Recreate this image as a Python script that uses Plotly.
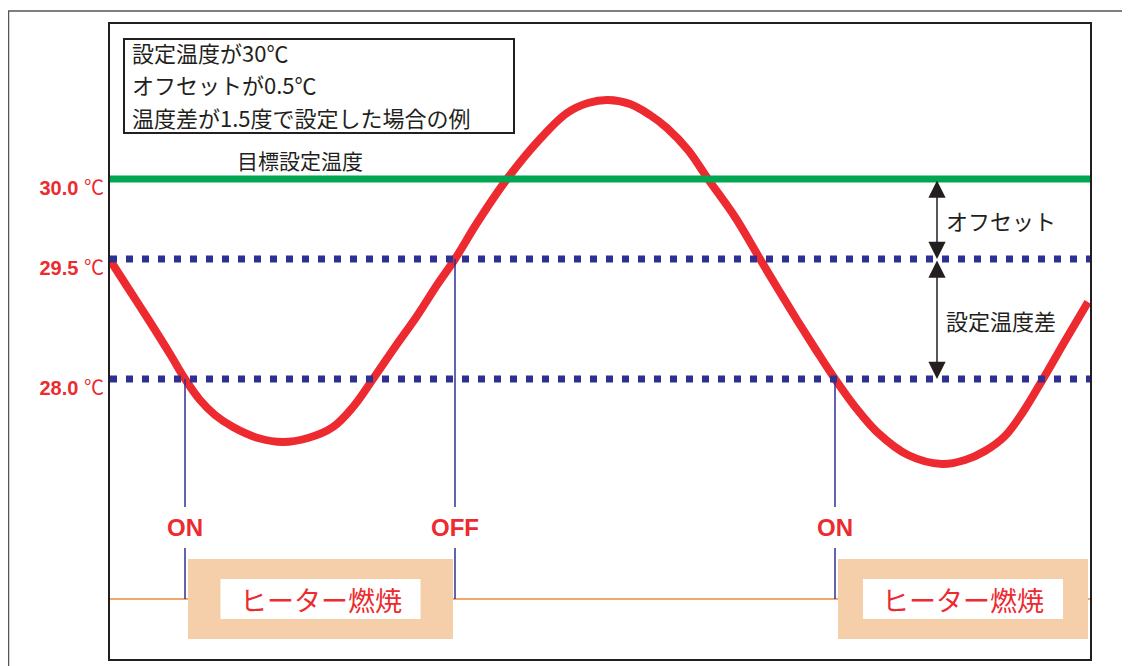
import plotly.graph_objects as go

# schematic diagram: x = time (arbitrary units), y = vertical position in the diagram
curve_t = [0.0, 2.0, 4.0, 6.0, 7.5, 9.0, 10.5, 12.3, 14.8, 17.3, 19.8, 22.3, 24.3, 26.3, 28.5,
           30.7, 32.7, 34.5, 36.7, 39.7, 43.0, 45.7, 47.8, 49.8, 52.0, 54.0, 55.7, 57.8,
           59.8, 62.5, 65.0, 66.8, 68.7, 70.6, 72.5, 74.6, 76.7, 79.8, 83.2, 85.5, 87.5,
           89.5, 91.3, 93.3, 95.5, 97.8]
curve_y = [39.9, 36.8, 33.7, 30.5, 28.0, 25.9, 24.4, 23.2, 22.1, 21.7, 22.1, 23.2, 25.2, 28.0, 31.2,
           34.3, 37.4, 40.0, 43.6, 48.0, 52.0, 54.6, 55.6, 55.9, 55.5, 54.4, 53.1, 50.9,
           48.0, 44.2, 40.0, 37.0, 33.9, 30.9, 28.0, 25.1, 22.7, 20.4, 19.5, 19.9, 20.8,
           22.3, 24.7, 28.0, 31.8, 35.7]

level_temps = ["30.0", "29.5", "28.0"]
level_y = [48.0, 40.0, 28.0]

event_t = [7.5, 34.5, 72.5]
event_labels = ["ON", "OFF", "ON"]
event_level = [28.0, 40.0, 28.0]

heater_start = [7.5, 72.5]
heater_end = [34.5, 98.0]
heater_label = "ヒーター燃焼"

info_lines = ["設定温度が30℃", "オフセットが0.5℃", "温度差が1.5度で設定した場合の例"]

RED = "#ec2a2f"
GREEN = "#00a651"
NAVY = "#2e3192"
INK = "#231f20"
PEACH = "#f5cfa9"
ORANGE = "#f08a3c"
JP = "Noto Sans CJK JP"
LAT = "Liberation Sans, Arial, Noto Sans CJK JP"

# the page body adds an 8px margin, so the figure is sized to fit inside the window
W, H = 1122, 658
L, R, T, B = 102, 40, 16, 7
X_MAX, Y_MAX = 98.0, 63.5


def px_x(p):
    return (p - L) / (W - L - R)


def px_y(p):
    return (H - B - p) / (H - T - B)


fig = go.Figure()

fig.add_trace(go.Scatter(
    x=curve_t, y=curve_y, mode="lines",
    line=dict(color=RED, width=8, shape="spline", smoothing=1.0),
    hoverinfo="skip", showlegend=False
))

# outer frame of the page
fig.add_shape(type="line", xref="paper", yref="paper",
              x0=px_x(0), x1=px_x(W), y0=px_y(3), y1=px_y(3),
              line=dict(color="#555", width=1.5))
fig.add_shape(type="line", xref="paper", yref="paper",
              x0=px_x(0.5), x1=px_x(0.5), y0=px_y(3), y1=px_y(H),
              line=dict(color="#555", width=1.5))

# heater state baseline
fig.add_shape(type="line", x0=0, x1=X_MAX, y0=6.0, y1=6.0,
              line=dict(color=ORANGE, width=1.5))

# level lines
fig.add_shape(type="line", x0=0, x1=X_MAX, y0=level_y[0], y1=level_y[0],
              line=dict(color=GREEN, width=7))
for y in level_y[1:]:
    fig.add_shape(type="line", x0=0, x1=X_MAX, y0=y, y1=y,
                  line=dict(color=NAVY, width=7, dash="7px,9px"))

# switching events
for t, lab, lev in zip(event_t, event_labels, event_level):
    fig.add_shape(type="line", x0=t, x1=t, y0=lev, y1=15.2,
                  line=dict(color=NAVY, width=1.5))
    fig.add_shape(type="line", x0=t, x1=t, y0=11.1, y1=6.0,
                  line=dict(color=NAVY, width=1.5))
    fig.add_annotation(x=t, y=13.2, text=f"<b>{lab}</b>", showarrow=False,
                       font=dict(family=LAT, size=24, color=RED))

# heater on periods
for s, e in zip(heater_start, heater_end):
    x0, x1 = s + 0.3, e - 0.2
    c = (x0 + x1) / 2
    fig.add_shape(type="rect", x0=x0, x1=x1, y0=2.0, y1=10.0,
                  fillcolor=PEACH, line=dict(width=0))
    fig.add_shape(type="rect", x0=c - 10, x1=c + 10, y0=4.0, y1=8.0,
                  fillcolor="white", line=dict(width=0))
    fig.add_annotation(x=c, y=6.0, text=heater_label, showarrow=False,
                       font=dict(family=JP, size=27, color=RED))

# info box
fig.add_shape(type="rect", x0=1.4, x1=40.4, y0=52.6, y1=62.0,
              line=dict(color=INK, width=2), fillcolor="rgba(0,0,0,0)")
for i, line in enumerate(info_lines):
    fig.add_annotation(x=2.0, y=60.75 - 3.25 * i, text=line, showarrow=False,
                       xanchor="left", yanchor="middle", align="left",
                       font=dict(family=JP, size=22, color=INK))

fig.add_annotation(x=19.0, y=49.9, text="目標設定温度", showarrow=False,
                   font=dict(family=JP, size=21, color=INK))

# offset / differential arrows
ax_x = 82.7
for top, bot, lab in [(level_y[0], level_y[1], "オフセット"), (level_y[1], level_y[2], "設定温度差")]:
    fig.add_annotation(x=ax_x, y=bot, ax=ax_x, ay=top, axref="x", ayref="y",
                       text="", showarrow=True, arrowside="end+start",
                       arrowhead=2, startarrowhead=2, arrowsize=2.3, startarrowsize=2.3,
                       arrowwidth=1.5, arrowcolor=INK, standoff=0, startstandoff=0)
    fig.add_annotation(x=ax_x + 0.7, y=(top + bot) / 2 - 0.1, text=lab, showarrow=False,
                       xanchor="left", font=dict(family=JP, size=22, color=INK))

fig.update_layout(
    width=W, height=H,
    margin=dict(l=L, r=R, t=T, b=B),
    paper_bgcolor="white", plot_bgcolor="white",
    showlegend=False, hovermode=False,
    xaxis=dict(range=[0, X_MAX], showgrid=False, zeroline=False, showticklabels=False,
               ticks="", showline=True, mirror=True, linecolor=INK, linewidth=2),
    yaxis=dict(range=[0, Y_MAX], showgrid=False, zeroline=False, automargin=False,
               tickvals=level_y, ticktext=[f"<b>{v}</b> ℃" for v in level_temps],
               ticks="", ticklabelstandoff=0, ticklabelshift=9,
               tickfont=dict(family=LAT, size=20, color=RED),
               showline=True, mirror=True, linecolor=INK, linewidth=2),
)

fig.write_html("out.html")
